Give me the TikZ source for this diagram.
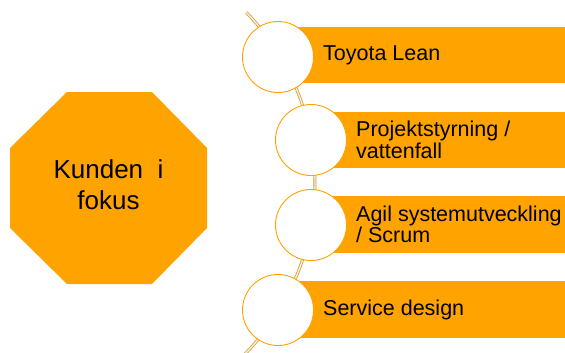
\documentclass[tikz,border=0pt]{standalone}
\usepackage{fontspec}
\setmainfont{Liberation Sans}
\definecolor{orng}{RGB}{255,163,0}
\definecolor{tanline}{RGB}{205,160,70}
\definecolor{cream}{RGB}{252,238,205}
\begin{document}
\begin{tikzpicture}[x=1pt,y=-1pt,
  bar/.style={fill=orng,draw=none},
  disc/.style={circle,draw=orng,line width=0.9pt,fill=white,minimum size=71pt,inner sep=0pt},
  bartext/.style={anchor=west,align=left,font=\fontsize{21.5}{21.5}\selectfont,inner sep=0pt},
  spine/.style={draw=tanline,double=cream,double distance=1.4pt,line width=0.8pt}]
\useasboundingbox (0,0) rectangle (565,353);
% octagon
\path[fill=orng] (67,92) -- (152,92) -- (207,148) -- (207,228) -- (152,284) -- (67,284) -- (10,228) -- (10,148) -- cycle;
\node[align=center,font=\fontsize{26}{31}\selectfont,inner sep=0pt] (kunden) at (108.5,185) {Kunden\ \ i\\fokus};
% bars
\path[bar] (279,27) rectangle (565,83);
\path[bar] (311,112) rectangle (565,168);
\path[bar] (311,196) rectangle (565,253);
\path[bar] (279,281) rectangle (565,338);
% spine arc
\coordinate (sc) at (70,182.5);
\draw[spine] ([shift={(46:245)}]sc) arc[start angle=46,end angle=-44,radius=245];
% circles
\node[disc] (c1) at (278,57) {};
\node[disc] (c2) at (311,140) {};
\node[disc] (c3) at (311,225) {};
\node[disc] (c4) at (278,310) {};
% texts
\node[bartext] (t1) at (323,55.5) {Toyota Lean};
\node[bartext] (t2) at (356,140) {Projektstyrning /\\vattenfall};
\node[bartext] (t3) at (356,224.5) {Agil systemutveckling\\/ Scrum};
\node[bartext] (t4) at (323,309.5) {Service design};
\end{tikzpicture}
\end{document}
